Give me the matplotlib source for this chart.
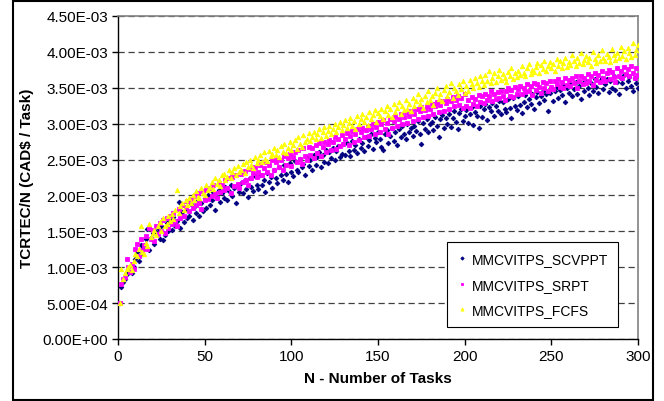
import matplotlib
matplotlib.use("Agg")
import matplotlib.pyplot as plt
import numpy as np
from matplotlib.patches import Rectangle
from matplotlib.ticker import FuncFormatter, MultipleLocator

plt.rcParams['font.family'] = ['Liberation Sans', 'DejaVu Sans']

# values in units of 1e-5 CAD$/task, N = 1..300
scvppt = [
    50, 73, 80, 83, 91, 97, 94, 92, 100, 111,
    121, 108, 131, 118, 127, 139, 153, 124, 141, 147,
    133, 149, 155, 140, 158, 138, 145, 161, 150, 166,
    152, 170, 158, 164, 191, 155, 177, 163, 181, 168,
    171, 188, 166, 184, 176, 193, 172, 190, 179, 197,
    183, 201, 186, 194, 205, 180, 198, 208, 191, 203,
    196, 212, 193, 206, 215, 199, 210, 190, 214, 205,
    218, 203, 221, 209, 198, 224, 212, 206, 227, 215,
    209, 229, 214, 222, 205, 231, 219, 226, 211, 235,
    224, 217, 239, 228, 221, 242, 230, 219, 245, 233,
    227, 248, 236, 232, 251, 239, 244, 228, 253, 241,
    249, 236, 257, 243, 254, 261, 240, 256, 247, 263,
    245, 260, 252, 266, 249, 262, 269, 253, 258, 271,
    256, 273, 262, 255, 276, 264, 270, 259, 279, 266,
    273, 262, 282, 269, 277, 286, 265, 280, 274, 288,
    279, 268, 263, 285, 291, 273, 283, 294, 276, 289,
    270, 293, 281, 297, 286, 279, 300, 288, 294, 283,
    297, 290, 304, 285, 272, 301, 293, 307, 288, 299,
    303, 291, 309, 297, 281, 306, 312, 294, 308, 300,
    314, 296, 308, 318, 302, 293, 315, 320, 304, 311,
    319, 301, 314, 323, 298, 316, 310, 294, 325, 309,
    320, 327, 305, 323, 317, 329, 311, 324, 318, 331,
    313, 330, 321, 316, 334, 322, 308, 336, 325, 319,
    338, 326, 315, 330, 340, 323, 335, 328, 342, 320,
    337, 344, 329, 339, 346, 333, 341, 318, 343, 349,
    332, 345, 351, 336, 347, 340, 354, 330, 349, 343,
    355, 338, 348, 358, 342, 352, 335, 356, 346, 360,
    349, 340, 357, 345, 362, 351, 343, 359, 364, 348,
    355, 362, 344, 360, 350, 366, 347, 358, 341, 363,
    356, 368, 349, 360, 365, 353, 345, 363, 357, 350,
]

srpt = [
    50, 77, 84, 87, 112, 100, 93, 104, 98, 126,
    133, 116, 139, 124, 131, 144, 126, 155, 140, 152,
    137, 158, 146, 162, 150, 166, 148, 169, 155, 172,
    160, 176, 165, 158, 181, 169, 187, 172, 184, 192,
    178, 195, 183, 199, 186, 203, 190, 181, 206, 194,
    208, 195, 211, 199, 214, 204, 196, 218, 205, 215,
    208, 221, 210, 224, 204, 226, 213, 229, 216, 211,
    230, 219, 234, 222, 215, 237, 224, 231, 240, 226,
    232, 243, 228, 238, 247, 233, 242, 229, 250, 236,
    246, 252, 239, 249, 235, 255, 243, 252, 258, 241,
    253, 260, 246, 263, 251, 244, 266, 255, 249, 268,
    257, 266, 252, 270, 259, 273, 255, 268, 275, 260,
    271, 277, 263, 274, 281, 265, 278, 269, 284, 272,
    279, 287, 270, 283, 290, 274, 286, 292, 277, 288,
    294, 281, 291, 297, 283, 293, 300, 286, 296, 302,
    289, 299, 305, 292, 301, 286, 307, 294, 304, 310,
    297, 307, 313, 299, 309, 316, 301, 311, 318, 304,
    314, 320, 307, 317, 323, 309, 319, 325, 311, 321,
    327, 314, 324, 330, 316, 326, 332, 318, 329, 335,
    320, 331, 337, 324, 333, 339, 326, 336, 322, 341,
    325, 333, 322, 337, 328, 335, 324, 340, 330, 338,
    329, 342, 333, 339, 345, 331, 341, 334, 344, 336,
    346, 338, 333, 345, 349, 339, 347, 337, 351, 342,
    348, 353, 341, 350, 344, 355, 346, 352, 340, 356,
    347, 355, 351, 343, 358, 349, 356, 346, 359, 351,
    348, 359, 355, 362, 351, 358, 349, 364, 354, 361,
    352, 363, 356, 366, 350, 360, 367, 355, 364, 357,
    369, 359, 366, 354, 371, 361, 368, 358, 373, 363,
    360, 370, 375, 362, 372, 365, 358, 377, 367, 374,
    364, 379, 369, 376, 366, 381, 371, 363, 378, 368,
]

fcfs = [
    50, 98, 84, 92, 97, 100, 103, 96, 108, 118,
    116, 126, 158, 121, 118, 134, 129, 160, 142, 147,
    152, 145, 158, 163, 150, 168, 157, 160, 171, 165,
    174, 167, 180, 207, 176, 185, 190, 180, 194, 187,
    196, 189, 201, 193, 206, 198, 196, 210, 203, 200,
    215, 207, 212, 219, 209, 224, 216, 222, 213, 228,
    230, 221, 226, 235, 224, 232, 238, 228, 241, 233,
    236, 244, 231, 247, 239, 250, 242, 238, 253, 245,
    249, 256, 246, 260, 251, 248, 262, 255, 258, 266,
    257, 263, 254, 269, 261, 272, 259, 266, 274, 263,
    270, 277, 265, 281, 272, 268, 284, 275, 279, 287,
    276, 282, 289, 278, 285, 292, 280, 288, 295, 283,
    290, 297, 286, 293, 300, 289, 296, 303, 291, 298,
    305, 294, 301, 308, 297, 304, 293, 311, 300, 307,
    314, 302, 309, 298, 316, 306, 312, 319, 303, 315,
    310, 321, 307, 317, 324, 312, 320, 309, 327, 316,
    322, 330, 314, 325, 319, 333, 321, 328, 317, 336,
    324, 331, 342, 327, 335, 322, 339, 330, 345, 333,
    338, 326, 343, 349, 335, 341, 332, 347, 353, 339,
    344, 357, 336, 350, 345, 340, 355, 348, 359, 343,
    352, 346, 361, 355, 349, 364, 357, 351, 366, 359,
    354, 368, 360, 373, 356, 363, 370, 358, 366, 375,
    361, 369, 364, 358, 372, 367, 378, 362, 370, 365,
    374, 368, 381, 371, 366, 377, 383, 369, 375, 372,
    379, 385, 370, 382, 376, 388, 373, 380, 386, 377,
    383, 374, 390, 381, 387, 378, 384, 392, 379, 386,
    382, 395, 388, 380, 391, 385, 398, 383, 389, 394,
    386, 392, 381, 400, 390, 384, 396, 388, 402, 391,
    387, 397, 393, 386, 404, 395, 389, 399, 392, 407,
    394, 401, 390, 406, 398, 393, 412, 396, 403, 410,
]

series_names = ["MMCVITPS_SCVPPT", "MMCVITPS_SRPT", "MMCVITPS_FCFS"]
xticks = [0, 50, 100, 150, 200, 250, 300]

n = np.arange(1, len(scvppt) + 1)
scale = 1e-5

W, H = 664, 402
fig = plt.figure(figsize=(W / 100, H / 100), dpi=100)
ax = fig.add_axes([118 / W, (H - 340) / H, (638 - 118) / W, (340 - 17) / H])

styles = [
    dict(marker='D', color='#000080', ms=2.4),
    dict(marker='s', color='#FF00FF', ms=2.2),
    dict(marker='^', color='#FFFF00', ms=3.2),
]
for vals, name, st in zip([scvppt, srpt, fcfs], series_names, styles):
    ax.plot(n, np.array(vals) * scale, linestyle='none', marker=st['marker'],
            color=st['color'], markeredgecolor=st['color'], ms=st['ms'],
            markeredgewidth=0.6, label=name, zorder=3)

ax.set_xlim(0, 300)
ax.set_ylim(0, 0.0045)
ax.set_xticks(xticks)
ax.yaxis.set_major_locator(MultipleLocator(0.0005))
ax.yaxis.set_major_formatter(FuncFormatter(lambda v, p: '%.2E' % v))

ax.grid(axis='y', color='#404040', linestyle=(0, (5, 3)), linewidth=0.9, zorder=1)
ax.set_axisbelow(True)

for side in ['top', 'right']:
    ax.spines[side].set_color('#808080')
    ax.spines[side].set_linewidth(1.2)
for side in ['left', 'bottom']:
    ax.spines[side].set_color('black')
    ax.spines[side].set_linewidth(1.0)

ax.tick_params(axis='both', direction='out', length=4, width=1, labelsize=11,
               colors='black', pad=3)

ax.set_xlabel('N - Number of Tasks', fontsize=11, fontweight='bold', labelpad=6)
ax.set_ylabel('TCRTEC/N (CAD$ / Task)', fontsize=11, fontweight='bold', labelpad=6)

leg = ax.legend(loc='lower left', bbox_to_anchor=(0.633, 0.037), borderaxespad=0,
                fontsize=10, frameon=True, fancybox=False, framealpha=1,
                edgecolor='black', handlelength=0.7, handletextpad=0.4,
                borderpad=0.7, labelspacing=0.85, markerscale=0.7)
leg.get_frame().set_linewidth(0.8)

fig.patches.append(Rectangle((13 / W, 1 / H), (653 - 13) / W, (H - 3) / H,
                             transform=fig.transFigure, fill=False,
                             edgecolor='black', linewidth=1.5))

fig.savefig('out.png', dpi=100)
